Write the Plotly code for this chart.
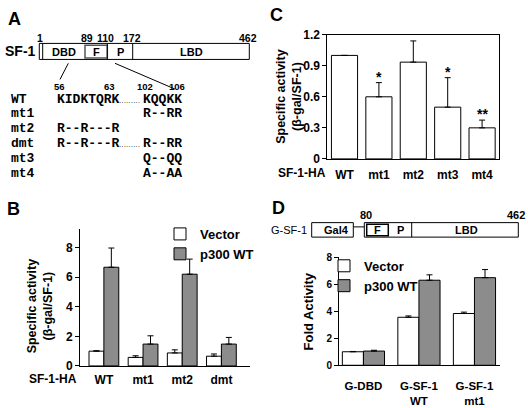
import plotly.graph_objects as go

W, H = 528, 408
SANS = "Liberation Sans, Arial, sans-serif"
MONO = "Liberation Mono, Courier New, monospace"
GRAY = "#8c8c8c"

# ---------------- data ----------------
# Panel A: SF-1 domain map and sequences
sf1_marks = ["1", "89", "110", "172", "462"]
sf1_domains = ["DBD", "F", "P", "LBD"]
seq_positions = ["56", "63", "102", "106"]
seq_rows = ["WT", "mt1", "mt2", "dmt", "mt3", "mt4"]
seq_left = ["KIDKTQRK", "", "R--R---R", "R--R---R", "", ""]
seq_right = ["KQQKK", "R--RR", "", "R--RR", "Q--QQ", "A--AA"]
seq_dots = [True, False, False, True, False, False]

# Panel B
b_cats = ["WT", "mt1", "mt2", "dmt"]
b_vector = [1.0, 0.58, 0.88, 0.66]
b_vector_err = [0.03, 0.11, 0.21, 0.15]
b_p300 = [6.68, 1.48, 6.21, 1.48]
b_p300_err = [1.3, 0.56, 1.02, 0.45]

# Panel C
c_cats = ["WT", "mt1", "mt2", "mt3", "mt4"]
c_vals = [1.0, 0.6, 0.935, 0.5, 0.3]
c_err = [0.0, 0.137, 0.205, 0.285, 0.075]
c_sig = ["", "*", "", "*", "**"]

# Panel D
d_cats = ["G-DBD", "G-SF-1<br>WT", "G-SF-1<br>mt1"]
d_vector = [1.0, 3.55, 3.83]
d_vector_err = [0.02, 0.1, 0.1]
d_p300 = [1.05, 6.29, 6.48]
d_p300_err = [0.06, 0.4, 0.6]
gsf1_marks = ["80", "462"]
gsf1_domains = ["Gal4", "F", "P", "LBD"]


def px(x):
    return x / W


def py(y):
    return 1 - y / H


def up_err(vals):
    return dict(type="data", array=vals, arrayminus=[0] * len(vals), symmetric=False,
                color="black", thickness=1, width=3)


fig = go.Figure()

# ---- B bars ----
fig.add_trace(go.Bar(x=b_cats, y=b_vector, name="Vector", marker=dict(color="white", line=dict(color="black", width=1)),
                     error_y=up_err(b_vector_err), xaxis="x", yaxis="y", legend="legend"))
fig.add_trace(go.Bar(x=b_cats, y=b_p300, name="p300 WT", marker=dict(color=GRAY, line=dict(color="black", width=1)),
                     error_y=up_err(b_p300_err), xaxis="x", yaxis="y", legend="legend"))
# ---- C bars ----
fig.add_trace(go.Bar(x=c_cats, y=c_vals, name="SF-1-HA", showlegend=False,
                     marker=dict(color="white", line=dict(color="black", width=1)),
                     error_y=up_err(c_err), xaxis="x2", yaxis="y2"))
# ---- D bars ----
fig.add_trace(go.Bar(x=d_cats, y=d_vector, name="Vector", marker=dict(color="white", line=dict(color="black", width=1)),
                     error_y=up_err(d_vector_err), xaxis="x3", yaxis="y3", legend="legend2"))
fig.add_trace(go.Bar(x=d_cats, y=d_p300, name="p300 WT", marker=dict(color=GRAY, line=dict(color="black", width=1)),
                     error_y=up_err(d_p300_err), xaxis="x3", yaxis="y3", legend="legend2"))

bold = dict(family=SANS, color="black", weight="bold")

common_x = dict(showline=True, linecolor="black", linewidth=1, ticks="", showgrid=False, zeroline=False,
                fixedrange=True)
common_y = dict(showline=True, linecolor="black", linewidth=1, ticks="outside", ticklen=4, tickcolor="black",
                showgrid=False, zeroline=False, fixedrange=True)

fig.update_layout(
    width=W, height=H, margin=dict(l=0, r=0, t=0, b=0),
    paper_bgcolor="white", plot_bgcolor="white",
    barmode="group", bargap=0.24, bargroupgap=0,
    font=dict(family=SANS, color="black"),
    xaxis=dict(domain=[px(80), px(250)], anchor="y", range=[-0.61, 3.73], ticklabelstandoff=3,
               tickfont=dict(size=12, **bold), **common_x),
    yaxis=dict(domain=[py(371.7), py(229.4)], anchor="x", range=[0, 9.3], tickvals=[0, 2, 4, 6, 8],
               tickfont=dict(size=12, **bold), **common_y),
    xaxis2=dict(domain=[px(327.3), px(499.3)], anchor="y2", range=[-0.5, 4.5], mirror=True, ticklabelstandoff=5,
                tickfont=dict(size=12, **bold), **common_x),
    yaxis2=dict(domain=[py(157.3), py(28.7)], anchor="x2", range=[0, 1.2], tickvals=[0, 0.3, 0.6, 0.9, 1.2],
                ticktext=["0", "0.3", "0.6", "0.9", "1.2"], mirror=True, tickfont=dict(size=12, **bold), **common_y),
    xaxis3=dict(domain=[px(339), px(500)], anchor="y3", range=[-0.44, 2.46], ticklabelstandoff=10,
                tickfont=dict(size=11.5, **bold), **common_x),
    yaxis3=dict(domain=[py(371), py(259)], anchor="x3", range=[0, 8], tickvals=[0, 2, 4, 6, 8],
                tickfont=dict(size=10, **bold), **common_y),
    legend=dict(x=px(160), y=py(219.5), xanchor="left", yanchor="top", bgcolor="rgba(0,0,0,0)",
                font=dict(size=13, **bold), itemwidth=30, traceorder="normal"),
    legend2=dict(x=px(324), y=py(252.5), xanchor="left", yanchor="top", bgcolor="rgba(0,0,0,0)",
                 font=dict(size=13, **bold), itemwidth=30, traceorder="normal"),
)

ann = []
shapes = []


def text(x, y, s, size, family=SANS, weight="bold", xanchor="center", yanchor="middle", angle=0, color="black"):
    ann.append(dict(x=px(x), y=py(y), xref="paper", yref="paper", text=s, showarrow=False,
                    xanchor=xanchor, yanchor=yanchor, textangle=angle,
                    font=dict(family=family, size=size, weight=weight, color=color)))


def rect(x0, y0, x1, y1, color="black", width=1):
    shapes.append(dict(type="rect", xref="paper", yref="paper", x0=px(x0), x1=px(x1), y0=py(y0), y1=py(y1),
                       line=dict(color=color, width=width), fillcolor="rgba(0,0,0,0)"))


def line(x0, y0, x1, y1, color="black", width=1):
    shapes.append(dict(type="line", xref="paper", yref="paper", x0=px(x0), x1=px(x1), y0=py(y0), y1=py(y1),
                       line=dict(color=color, width=width)))


# panel letters
text(14, 12, "A", 18)
text(13, 209, "B", 18)
text(276, 8, "C", 18)
text(278, 208, "D", 18)

# ---- Panel A diagram ----
text(20, 46, "SF-1", 14)
rect(39.3, 37.7, 249.3, 54.3)
line(42.7, 37.7, 42.7, 54.3)
rect(85, 39.5, 107.3, 52.8, color="#555555", width=1.5)
line(107.3, 37.7, 107.3, 54.3)
line(132.7, 37.7, 132.7, 54.3)
for xc, lab in zip([39.5, 86.7, 105, 131.7, 248.3], sf1_marks):
    text(xc, 32.5, lab, 10.5)
for xc, lab in zip([64, 96.2, 120, 191], sf1_domains):
    text(xc, 46.5, lab, 11)
line(68.3, 58.3, 60, 75)
line(115, 58.3, 175, 85)

# sequences
for xc, lab in zip([59, 109, 145, 176.7], seq_positions):
    text(xc, 82.5, lab, 9.5)
row_y = [95.5, 110.7, 126, 141.3, 156.8, 172.3]
for yy, lab, l, r, d in zip(row_y, seq_rows, seq_left, seq_right, seq_dots):
    text(9, yy, lab, 13, family=MONO, xanchor="left")
    if l:
        text(54.5, yy, l, 13, family=MONO, xanchor="left")
    if r:
        text(141, yy, r, 13, family=MONO, xanchor="left")
    if d:
        text(129.5, yy + 3, "·········", 7, weight="normal")

# ---- Panel B labels ----
text(53, 385, "SF-1-HA", 12)
text(40, 310, "Specific activity<br>(β-gal/SF-1)", 12.5, angle=-90)

# ---- Panel C labels ----
text(302, 172, "SF-1-HA", 12)
text(289, 93, "Specific activity<br>(β-gal/SF-1)", 12.5, angle=-90)
for c, v, e, s in zip(c_cats, c_vals, c_err, c_sig):
    if s:
        ann.append(dict(x=c, y=v + e, xref="x2", yref="y2", text=s, showarrow=False, yanchor="bottom",
                        yshift=-4, font=dict(family=SANS, size=14, weight="bold", color="black")))

# ---- Panel D ----
text(308.3, 315, "Fold Activity", 13, angle=-90)
text(309, 230.5, "G-SF-1", 11, weight="normal", xanchor="right")
rect(311.7, 223.3, 353.3, 238.3)
line(353.3, 227.7, 364.3, 227.7)
rect(364.3, 223.3, 518.3, 238.3)
rect(366.7, 225, 388.3, 237, width=1.5)
line(411.7, 223.3, 411.7, 238.3)
for xc, lab in zip([336.7, 377.5, 400, 466], gsf1_domains):
    text(xc, 231, lab, 11)
text(366, 215.5, gsf1_marks[0], 11)
text(527, 215.5, gsf1_marks[1], 11, xanchor="right")

fig.update_layout(annotations=ann, shapes=shapes)
fig.write_html("out.html", config={"displayModeBar": False},
               post_script="document.body.style.margin='0';document.body.style.padding='0';")
